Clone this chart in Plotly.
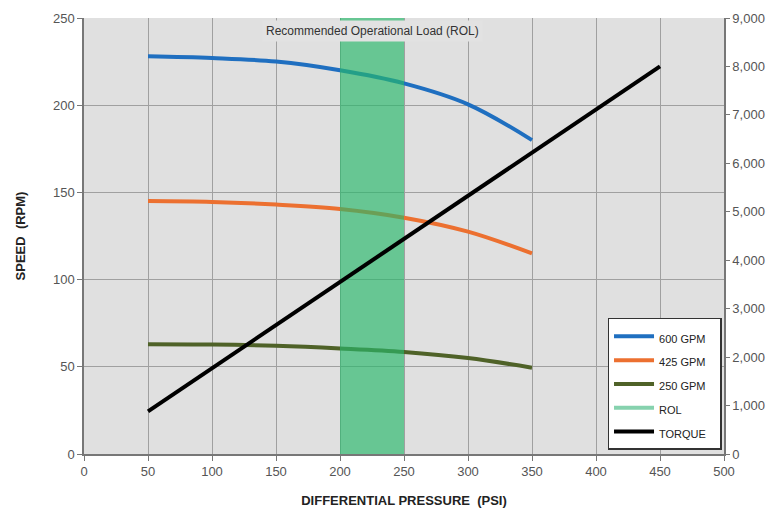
import plotly.graph_objects as go

pressure = [50, 100, 150, 200, 250, 300, 350]
gpm600 = [228, 227, 225, 220, 212.5, 200.5, 180]
gpm425 = [145, 144.5, 143, 140.5, 135.5, 127.5, 115]
gpm250 = [63, 62.8, 62, 60.5, 58.5, 55, 49.5]
torque_x = [50, 450]
torque_y = [880, 8000]
rol_range = [200, 250]
speed_max = 250
torque_max = 9000

C600 = "#1f6fc0"
C425 = "#ec7030"
C250 = "#4f6228"
CROL = "rgba(40,184,106,0.66)"
CROL_LEG = "#86d2ae"

def leg(name):
    return '<span style="font-size:11px">' + name + '</span>&nbsp;&nbsp;'

fig = go.Figure()
for name, ys, col in [("600 GPM", gpm600, C600), ("425 GPM", gpm425, C425), ("250 GPM", gpm250, C250)]:
    fig.add_trace(go.Scatter(x=pressure, y=ys, name=leg(name), mode="lines",
                             line=dict(color=col, width=4, shape="spline"), yaxis="y"))

# ROL band drawn as filled area over the speed curves
fig.add_trace(go.Scatter(x=[rol_range[0], rol_range[1], rol_range[1], rol_range[0], rol_range[0]],
                         y=[0, 0, speed_max, speed_max, 0], fill="toself", fillcolor=CROL,
                         line=dict(width=0), mode="lines", showlegend=False, hoverinfo="skip", yaxis="y"))
fig.add_trace(go.Scatter(x=[None], y=[None], name=leg("ROL"), mode="lines",
                         line=dict(color=CROL_LEG, width=4), yaxis="y"))
fig.add_trace(go.Scatter(x=torque_x, y=torque_y, name=leg("TORQUE"), mode="lines",
                         line=dict(color="black", width=4), yaxis="y2"))

FONT = "Liberation Sans, Arial, sans-serif"
tickfont = dict(family=FONT, size=13, color="#555555")
titlefont = dict(family=FONT, size=13, color="#222222")

fig.update_layout(
    width=766, height=510,
    margin=dict(l=84, r=42, t=18, b=56),
    paper_bgcolor="white", plot_bgcolor="#e0e0e0",
    showlegend=True,
    legend=dict(x=0.818, y=0.312, xanchor="left", yanchor="top",
                bgcolor="white", bordercolor="#333333", borderwidth=1.5,
                font=dict(family=FONT, size=16, color="#222222"),
                tracegroupgap=0, itemwidth=40),
    xaxis=dict(range=[0, 500], tickvals=list(range(0, 501, 50)), showgrid=True,
               gridcolor="#a0a0a0", gridwidth=1, zeroline=False, automargin=False,
               showline=True, linecolor="#777777", linewidth=1.5,
               ticks="outside", ticklen=5, tickcolor="#777777", tickfont=tickfont,
               title=dict(text="<b>DIFFERENTIAL PRESSURE  (PSI)</b>", font=titlefont, standoff=18)),
    yaxis=dict(range=[0, speed_max], tickvals=list(range(0, 251, 50)), showgrid=True,
               gridcolor="#a0a0a0", gridwidth=1, zeroline=False, automargin=False,
               showline=True, linecolor="#777777", linewidth=1.5,
               ticks="outside", ticklen=5, tickcolor="#777777", tickfont=tickfont,
               title=dict(text="<b>SPEED  (RPM)</b>", font=titlefont, standoff=24)),
    yaxis2=dict(range=[0, torque_max], tickvals=list(range(0, 9001, 1000)), overlaying="y",
                side="right", showgrid=False, zeroline=False, automargin=False,
                showline=True, linecolor="#777777", linewidth=1.5,
                ticks="outside", ticklen=4, tickcolor="#777777", tickfont=tickfont,
                tickformat=",d"),
    annotations=[dict(x=225, y=242.5, xref="x", yref="y", text="Recommended Operational Load (ROL)",
                      showarrow=False, bgcolor="#e2e2e2", borderpad=3,
                      font=dict(family=FONT, size=12, color="#333333"))],
)

fig.write_html("out.html", config={"displayModeBar": False},
               post_script="document.body.style.margin='0';document.body.style.overflow='hidden';")
